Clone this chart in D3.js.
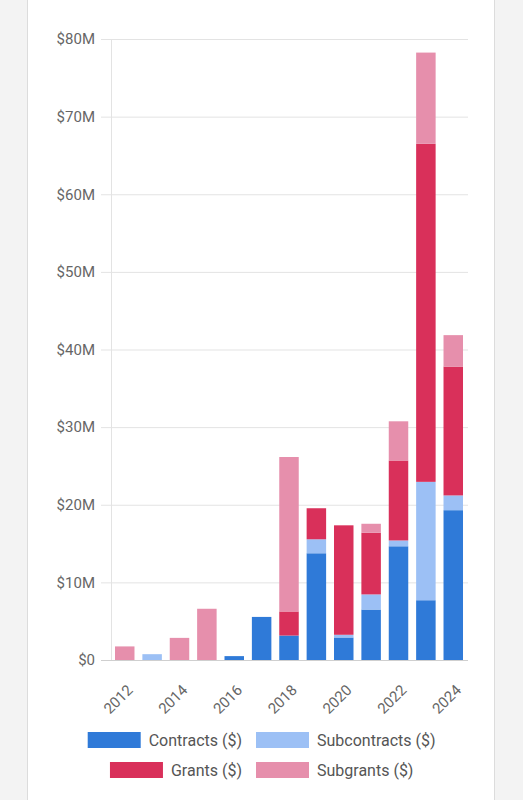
<!DOCTYPE html>
<html><head><meta charset="utf-8">
<script src="https://cdn.jsdelivr.net/npm/d3@7"></script>
<style>
html,body{margin:0;padding:0;background:#f3f3f3;}
body{width:523px;height:800px;overflow:hidden;position:relative;font-family:Roboto,"Noto Sans",sans-serif;}
#card{position:absolute;left:27px;top:-2px;width:468px;height:810px;background:#fff;border:1px solid #dcdcdc;box-sizing:border-box;}
svg{position:absolute;left:0;top:0;}
</style></head>
<body><div id="card"></div><svg id="chart" width="523" height="800"></svg>
<script>
const years = ["2012","2013","2014","2015","2016","2017","2018","2019","2020","2021","2022","2023","2024"];
const contracts    = [0, 0, 0, 0, 0.5, 5.55, 3.15, 13.75, 2.9, 6.5, 14.65, 7.7, 19.3];
const subcontracts = [0, 0.75, 0, 0, 0, 0, 0, 1.8, 0.35, 1.95, 0.75, 15.25, 1.9];
const grants       = [0, 0, 0, 0, 0, 0, 3.1, 4.0, 14.1, 7.95, 10.3, 43.55, 16.6];
const subgrants    = [1.75, 0, 2.85, 6.6, 0, 0, 19.9, 0, 0, 1.15, 5.05, 11.75, 4.05];
const seriesNames = ["Contracts ($)", "Subcontracts ($)", "Grants ($)", "Subgrants ($)"];
const colors = ["#2f7ad8", "#9cc0f5", "#d9305a", "#e68fac"];
const yTicks = [0,10,20,30,40,50,60,70,80];
const xLabelYears = ["2012","2014","2016","2018","2020","2022","2024"];

const svg = d3.select("#chart");
const x = d3.scaleBand().domain(years).range([111, 467]).paddingInner(0.288).paddingOuter(0.146);
const y = d3.scaleLinear().domain([0, 80]).range([660, 39]);

const rows = years.map((yr, i) => ({year: yr, c: contracts[i], s: subcontracts[i], g: grants[i], sg: subgrants[i]}));
const stack = d3.stack().keys(["c","s","g","sg"])(rows);

// y axis labels
const yAxis = d3.axisLeft(y).tickValues(yTicks).tickSize(0).tickPadding(0)
  .tickFormat(d => d === 0 ? "$0" : "$" + d + "M");
const gy = svg.append("g").attr("transform", "translate(95,0)").call(yAxis);
gy.select(".domain").remove();
gy.selectAll("text").attr("fill", "#666").style("font-size", "15px").style("font-family", "Roboto");

// gridlines
svg.append("g").selectAll("line").data(yTicks.filter(d => d > 0)).join("line")
  .attr("x1", 101).attr("x2", 468).attr("y1", d => y(d) + 0.5).attr("y2", d => y(d) + 0.5)
  .attr("stroke", "#e3e3e3").attr("stroke-width", 1);
svg.append("line").attr("x1", 111.5).attr("x2", 111.5).attr("y1", y(80)).attr("y2", y(0))
  .attr("stroke", "#e3e3e3");

// bars
svg.append("g").selectAll("g").data(stack).join("g")
  .attr("fill", (d, i) => colors[i])
  .selectAll("rect").data(d => d).join("rect")
  .attr("x", d => x(d.data.year))
  .attr("width", x.bandwidth())
  .attr("y", d => y(d[1]))
  .attr("height", d => Math.max(0, y(d[0]) - y(d[1])));

// baseline
svg.append("line").attr("x1", 101).attr("x2", 468).attr("y1", 660.5).attr("y2", 660.5)
  .attr("stroke", "#cfcfcf");

// x axis labels
const xAxis = d3.axisBottom(x).tickValues(xLabelYears).tickSize(0).tickPadding(0);
const gx = svg.append("g").attr("transform", "translate(0,660)").call(xAxis);
gx.select(".domain").remove();
gx.selectAll("text")
  .attr("fill", "#666").style("font-size", "15px").style("font-family", "Roboto")
  .attr("text-anchor", "end").attr("dy", null)
  .attr("transform", "translate(9,31) rotate(-45)");

// legend
const leg = [[0, 740, "end"], [1, 740, "start"], [2, 770, "end"], [3, 770, "start"]];
const lg = svg.append("g");
leg.forEach(([i, cy, side]) => {
  const t = lg.append("text").text(seriesNames[i]).attr("fill", "#555")
    .style("font-size", "16px").style("font-family", "Roboto")
    .attr("y", cy).attr("dy", "0.35em");
  if (side === "end") {
    const w = t.node().getComputedTextLength();
    const tx = 242 - w;
    t.attr("x", tx);
    lg.append("rect").attr("x", tx - 61).attr("y", cy - 8).attr("width", 53).attr("height", 16).attr("fill", colors[i]);
  } else {
    t.attr("x", 317);
    lg.append("rect").attr("x", 256).attr("y", cy - 8).attr("width", 53).attr("height", 16).attr("fill", colors[i]);
  }
});
</script></body></html>
